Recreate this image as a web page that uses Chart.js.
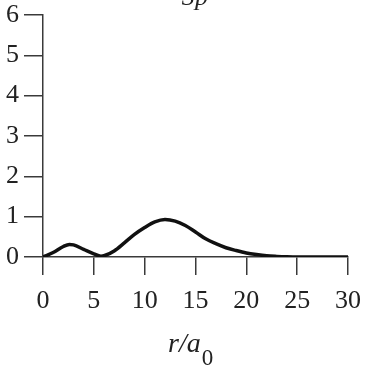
<!DOCTYPE html>
<html>
<head>
<meta charset="utf-8">
<script src="https://cdn.jsdelivr.net/npm/chart.js@4"></script>
<style>
  html, body { margin: 0; padding: 0; background: #fff; }
  #wrap { width: 388px; height: 376px; }
</style>
</head>
<body>
<div id="wrap"><canvas id="myChart"></canvas></div>
<script>
// radial probability, 3p
var rValues = [0, 1, 2, 2.6, 3, 4, 5, 5.7, 6, 7, 8, 9, 10, 11, 12, 13, 14, 15, 16, 17, 18, 19, 20, 21, 22, 23, 24, 25, 26, 27, 28, 29, 30];
var pValues = [0, 0.11, 0.26, 0.31, 0.30, 0.19, 0.08, 0.02, 0.03, 0.15, 0.35, 0.56, 0.73, 0.87, 0.93, 0.89, 0.78, 0.62, 0.45, 0.33, 0.23, 0.16, 0.10, 0.06, 0.03, 0.015, 0.005, 0, 0, 0, 0, 0, 0];
var xTicks = [0, 5, 10, 15, 20, 25, 30];
var yTicks = [0, 1, 2, 3, 4, 5, 6];
var titleText = '3p';
var axisTitle = 'r/a';
var axisSub = '0';

var points = rValues.map(function (r, i) { return { x: r, y: pValues[i] }; });

var serif = "'Liberation Serif', 'DejaVu Serif', serif";
var axisColor = '#3a3a3a';
var textColor = '#222';

// labels that chart.js can't do on its own (subscript, cut title)
var textPlugin = {
  id: 'textPlugin',
  afterDraw: function (chart) {
    var ctx = chart.ctx;
    ctx.save();
    ctx.fillStyle = textColor;
    ctx.textBaseline = 'alphabetic';
    ctx.font = 'italic 26px ' + serif;
    ctx.textAlign = 'center';
    ctx.fillText(titleText, 195, 5);

    ctx.textAlign = 'left';
    ctx.font = 'italic 28px ' + serif;
    var x0 = 168;
    ctx.fillText(axisTitle, x0, 352);
    var w = ctx.measureText(axisTitle).width;
    ctx.font = '23px ' + serif;
    ctx.fillText(axisSub, x0 + w + 1, 365);
    ctx.restore();
  }
};

new Chart('myChart', {
  type: 'line',
  data: {
    datasets: [{
      data: points,
      borderColor: '#111',
      borderWidth: 3.5,
      pointRadius: 0,
      fill: false,
      cubicInterpolationMode: 'monotone'
    }]
  },
  options: {
    responsive: true,
    maintainAspectRatio: false,
    animation: false,
    layout: { padding: { top: 15, right: 40, bottom: 0, left: 0 } },
    plugins: {
      legend: { display: false },
      tooltip: { enabled: false }
    },
    scales: {
      x: {
        type: 'linear',
        min: 0,
        max: 30,
        afterBuildTicks: function (axis) {
          axis.ticks = xTicks.map(function (v) { return { value: v }; });
        },
        afterFit: function (axis) {
          axis.height = 119;
          axis.paddingLeft = 0;
          axis.paddingRight = 0;
        },
        grid: { drawOnChartArea: false, drawTicks: true, tickLength: 18, color: axisColor, lineWidth: 1.5 },
        border: { display: true, color: axisColor, width: 1.5 },
        ticks: { color: textColor, font: { family: serif, size: 26 }, padding: 11, maxRotation: 0 }
      },
      y: {
        min: 0,
        max: 6,
        afterBuildTicks: function (axis) {
          axis.ticks = yTicks.map(function (v) { return { value: v }; });
        },
        afterFit: function (axis) {
          axis.width = 43;
          axis.paddingTop = 0;
          axis.paddingBottom = 0;
        },
        grid: { drawOnChartArea: false, drawTicks: true, tickLength: 19, color: axisColor, lineWidth: 1.5 },
        border: { display: true, color: axisColor, width: 1.5 },
        ticks: { color: textColor, font: { family: serif, size: 26 }, padding: 5 }
      }
    }
  },
  plugins: [textPlugin]
});
</script>
</body>
</html>
